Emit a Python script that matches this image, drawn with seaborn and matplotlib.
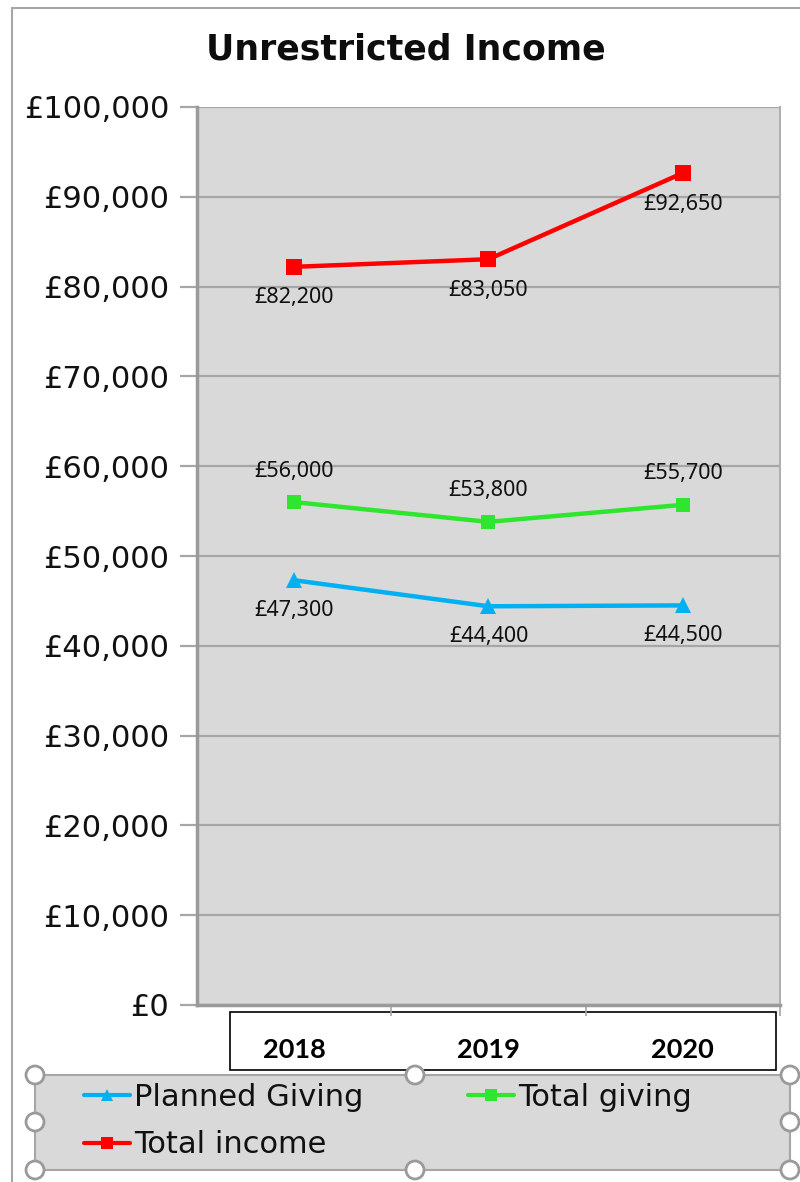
import numpy as np
import pandas as pd
import matplotlib.pyplot as plt
import seaborn as sns
from matplotlib.patches import Rectangle, Ellipse
from matplotlib.lines import Line2D
from matplotlib.ticker import FuncFormatter, FixedLocator

# data
years = ['2018', '2019', '2020']
planned_giving = [47300, 44400, 44500]
total_giving = [56000, 53800, 55700]
total_income = [82200, 83050, 92650]
series_names = ['Planned Giving', 'Total giving', 'Total income']
y_ticks = list(range(0, 100001, 10000))

colors = {'Planned Giving': '#00B0F0', 'Total giving': '#2EE62E', 'Total income': '#FF0000'}
markers = {'Planned Giving': '^', 'Total giving': 's', 'Total income': 's'}
marker_sizes = {'Planned Giving': 11, 'Total giving': 10.5, 'Total income': 11.5}
# label offset in pixels (positive = above the point)
label_offset = {'Planned Giving': -30, 'Total giving': 31, 'Total income': -31}

df = pd.DataFrame({
    'Year': years * 3,
    'Amount': planned_giving + total_giving + total_income,
    'Series': np.repeat(series_names, len(years)),
})

sns.set_style('white')
plt.rcParams['font.family'] = ['DejaVu Sans']

W, H = 800, 1182


def fx(px):
    return px / W


def fy(py):
    return 1 - py / H


fig = plt.figure(figsize=(W / 100, H / 100), dpi=100)
ax = fig.add_axes([fx(197), fy(1005), fx(780) - fx(197), fy(107) - fy(1005)])
ax.set_facecolor('#D9D9D9')

sns.lineplot(data=df, x='Year', y='Amount', hue='Series', style='Series',
             hue_order=series_names, style_order=series_names,
             palette=colors, markers=markers, dashes=False, linewidth=3.2,
             markeredgewidth=0, sort=False, legend=False, ax=ax)
for line, name in zip(ax.lines, series_names):
    line.set_markersize(marker_sizes[name])
    line.set_zorder(3)

# data labels
for name, values in zip(series_names, [planned_giving, total_giving, total_income]):
    for i, v in enumerate(values):
        ax.annotate(f'£{v:,.0f}', (i, v), xytext=(0, label_offset[name] * 0.72),
                    textcoords='offset points', ha='center', va='center',
                    fontsize=15.5, family=['Noto Sans', 'DejaVu Sans'], color='#111111')

ax.set_ylim(0, 100000)
ax.set_xlim(-0.5, 2.5)
ax.yaxis.set_major_locator(FixedLocator(y_ticks))
ax.yaxis.set_major_formatter(FuncFormatter(lambda v, p: f'£{v:,.0f}'))
ax.grid(axis='y', color='#A6A6A6', linewidth=1.6)
ax.grid(axis='x', visible=False)
ax.set_axisbelow(True)
ax.tick_params(axis='y', left=True, length=12, width=1.6, color='#A6A6A6',
               pad=8, labelsize=22, labelcolor='#111111')

ax.set_xticks(range(len(years)))
ax.set_xticklabels(years, fontsize=19.5, fontweight='bold', color='black',
                   family=['Lato', 'DejaVu Sans'])
ax.tick_params(axis='x', which='major', length=0, pad=24, labelcolor='black')
ax.xaxis.set_minor_locator(FixedLocator([0.5, 1.5, 2.5]))
ax.tick_params(axis='x', which='minor', bottom=True, length=8, width=1.2, color='#A6A6A6')
ax.set_xlabel('')
ax.set_ylabel('')

for side in ['left', 'bottom']:
    ax.spines[side].set_color('#9A9A9A')
    ax.spines[side].set_linewidth(2.5)
ax.spines['right'].set_color('#B0B0B0')
ax.spines['right'].set_linewidth(1.5)
ax.spines['top'].set_visible(False)

# title
fig.text(fx(406), fy(50), 'Unrestricted Income', ha='center', va='center',
         fontsize=25, fontweight='bold', color='#0d0d0d')

# white box behind the year labels
fig.patches.append(Rectangle((fx(230), fy(1070)), fx(776) - fx(230), fy(1012) - fy(1070),
                             transform=fig.transFigure, facecolor='white',
                             edgecolor='black', linewidth=1.2, zorder=-1))

# legend box
fig.patches.append(Rectangle((fx(35), fy(1170)), fx(790) - fx(35), fy(1075) - fy(1170),
                             transform=fig.transFigure, facecolor='#D9D9D9',
                             edgecolor='#A6A6A6', linewidth=1.5, zorder=-1))

# column-major order so rows read Planned Giving, Total giving / Total income
legend_order = ['Planned Giving', 'Total income', 'Total giving']
handles = [Line2D([], [], color=colors[n], marker=markers[n], markersize=9,
                  linewidth=3, markeredgewidth=0) for n in legend_order]
fig.legend(handles, legend_order, loc='upper left', ncol=2, frameon=False,
           bbox_to_anchor=(fx(84), fy(1083)), borderaxespad=0, borderpad=0,
           fontsize=22, handlelength=1.5, handletextpad=0.15,
           columnspacing=3.4, labelspacing=0.6, labelcolor='#111111')

# selection handles around the legend
for cx, cy in [(35, 1075), (415, 1075), (790, 1075), (35, 1122), (790, 1122),
               (35, 1170), (415, 1170), (790, 1170)]:
    fig.patches.append(Ellipse((fx(cx), fy(cy)), 18 / W, 18 / H, transform=fig.transFigure,
                               facecolor='white', edgecolor='#9A9A9A', linewidth=2,
                               zorder=6))

# outer chart border
fig.lines.append(Line2D([fx(12), fx(800)], [fy(8), fy(8)], transform=fig.transFigure,
                        color='#A6A6A6', linewidth=1.5))
fig.lines.append(Line2D([fx(12), fx(12)], [fy(8), fy(1182)], transform=fig.transFigure,
                        color='#A6A6A6', linewidth=1.5))

fig.savefig('out.png', dpi=100, facecolor='white')
